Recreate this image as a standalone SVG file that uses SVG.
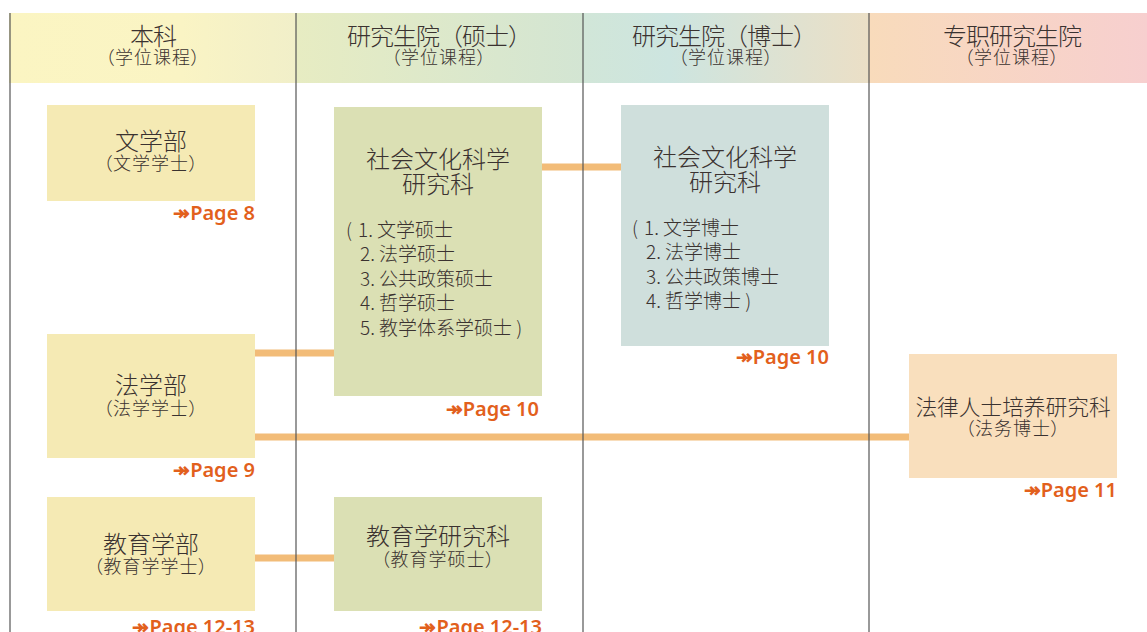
<svg xmlns="http://www.w3.org/2000/svg" width="1147" height="632" viewBox="0 0 1147 632">
<defs>
<linearGradient id="g1" x1="0" x2="1" y1="0" y2="0"><stop offset="0" stop-color="#fbf5c2"/><stop offset="0.6" stop-color="#faf4c4"/><stop offset="1" stop-color="#f1efc9"/></linearGradient>
<linearGradient id="g2" x1="0" x2="1" y1="0" y2="0"><stop offset="0" stop-color="#e7ecc2"/><stop offset="1" stop-color="#d3e5d3"/></linearGradient>
<linearGradient id="g3" x1="0" x2="1" y1="0" y2="0"><stop offset="0" stop-color="#d1e6d8"/><stop offset="0.3" stop-color="#cde5e0"/><stop offset="1" stop-color="#ebdfc6"/></linearGradient>
<linearGradient id="g4" x1="0" x2="1" y1="0" y2="0"><stop offset="0" stop-color="#f8dbbb"/><stop offset="1" stop-color="#f7cfcf"/></linearGradient>
<style>
text{font-family:"Noto Sans CJK SC","Noto Sans",sans-serif;fill:#3a3230;font-weight:300;}
.h{font-size:24px;text-anchor:middle;letter-spacing:-1px;}
.s{font-size:18px;text-anchor:middle;font-feature-settings:"palt";letter-spacing:1px;}
.t{font-size:24px;text-anchor:middle;}
.l{font-size:19px;}
.p{font-family:"Noto Sans","Open Sans",sans-serif;font-size:20px;font-weight:600;fill:#e2601c;text-anchor:end;}
.col{stroke:#555;stroke-width:1.2;}
.c{stroke:#f2bc78;stroke-width:7;fill:none;}
</style>
</defs>
<rect x="0" y="0" width="1147" height="632" fill="#fff"/>
<g id="header">
<rect x="9" y="13" width="287" height="70" fill="url(#g1)"/>
<rect x="296" y="13" width="287" height="70" fill="url(#g2)"/>
<rect x="583" y="13" width="286" height="70" fill="url(#g3)"/>
<rect x="869" y="13" width="278" height="70" fill="url(#g4)"/>
<text class="h" x="153" y="45">本科</text>
<text class="s" x="153" y="64">（学位课程）</text>
<text class="h" x="439" y="45">研究生院（硕士）</text>
<text class="s" x="439" y="64">（学位课程）</text>
<text class="h" x="724" y="45">研究生院（博士）</text>
<text class="s" x="726" y="64">（学位课程）</text>
<text class="h" x="1012" y="45">专职研究生院</text>
<text class="s" x="1012" y="64">（学位课程）</text>
</g>
<g id="connectors">
<line class="c" x1="542" y1="167" x2="621" y2="167"/>
<line class="c" x1="255" y1="353" x2="334" y2="353"/>
<line class="c" x1="255" y1="437" x2="909" y2="437"/>
<line class="c" x1="255" y1="558" x2="334" y2="558"/>
</g>
<g id="columns">
<line class="col" x1="10" y1="13" x2="10" y2="632"/>
<line class="col" x1="296" y1="13" x2="296" y2="632"/>
<line class="col" x1="583" y1="13" x2="583" y2="632"/>
<line class="col" x1="869" y1="13" x2="869" y2="632"/>
</g>
<g id="bungakubu">
<rect x="47" y="105" width="208" height="96" fill="#f5eab4"/>
<text class="t" x="151" y="150">文学部</text>
<text class="s" x="151" y="170">（文学学士）</text>
<text class="p" x="255" y="220">↠Page 8</text>
</g>
<g id="hougakubu">
<rect x="47" y="334" width="208" height="124" fill="#f5eab4"/>
<text class="t" x="151" y="394">法学部</text>
<text class="s" x="151" y="415">（法学学士）</text>
<text class="p" x="255" y="477">↠Page 9</text>
</g>
<g id="kyouikugakubu">
<rect x="47" y="497" width="208" height="114" fill="#f5eab4"/>
<text class="t" x="151" y="553">教育学部</text>
<text class="s" x="151" y="573">（教育学学士）</text>
<text class="p" x="255" y="634">↠Page 12-13</text>
</g>
<g id="master-shakai">
<rect x="334" y="107" width="208" height="289" fill="#dbe0b4"/>
<text class="t" x="438" y="168">社会文化科学</text>
<text class="t" x="438" y="193">研究科</text>
<text class="l" x="346" y="237">(</text>
<text class="l" x="358" y="237">1. 文学硕士</text>
<text class="l" x="360" y="261">2. 法学硕士</text>
<text class="l" x="360" y="286">3. 公共政策硕士</text>
<text class="l" x="360" y="310">4. 哲学硕士</text>
<text class="l" x="360" y="335">5. 教学体系学硕士 )</text>
<text class="p" x="539" y="416">↠Page 10</text>
</g>
<g id="master-kyouiku">
<rect x="334" y="497" width="208" height="114" fill="#dbe0b4"/>
<text class="t" x="438" y="545">教育学研究科</text>
<text class="s" x="438" y="566">（教育学硕士）</text>
<text class="p" x="542" y="634">↠Page 12-13</text>
</g>
<g id="doctor-shakai">
<rect x="621" y="105" width="208" height="241" fill="#cfdfdc"/>
<text class="t" x="725" y="166">社会文化科学</text>
<text class="t" x="725" y="191">研究科</text>
<text class="l" x="632" y="235">(</text>
<text class="l" x="644" y="235">1. 文学博士</text>
<text class="l" x="646" y="259">2. 法学博士</text>
<text class="l" x="646" y="284">3. 公共政策博士</text>
<text class="l" x="646" y="308">4. 哲学博士 )</text>
<text class="p" x="829" y="364">↠Page 10</text>
</g>
<g id="law-school">
<rect x="909" y="354" width="208" height="124" fill="#f9dfbd"/>
<text class="t" x="1013" y="415" style="font-size:21.7px">法律人士培养研究科</text>
<text class="s" x="1013" y="435">（法务博士）</text>
<text class="p" x="1117" y="497">↠Page 11</text>
</g>
</svg>
